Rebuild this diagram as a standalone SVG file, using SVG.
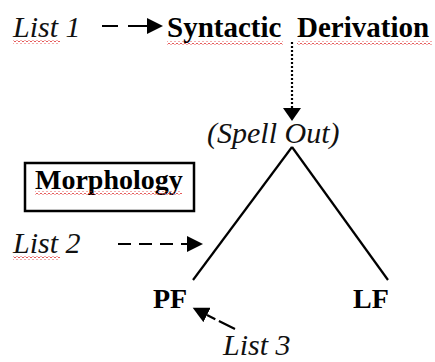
<svg xmlns="http://www.w3.org/2000/svg" width="435" height="362" viewBox="0 0 435 362">
<style>
.it{font-family:"Liberation Serif","Times New Roman",serif;font-style:italic;font-size:30px;fill:#111}
.bd{font-family:"Liberation Serif","Times New Roman",serif;font-weight:bold;font-size:28px;fill:#000}
.ln{stroke:#000;stroke-width:2.2;fill:none}
.wv{fill:url(#wave)}
</style>
<defs>
<marker id="ah" markerUnits="userSpaceOnUse" markerWidth="18" markerHeight="16" refX="0" refY="8" orient="auto"><path d="M0,0 L16,8 L0,16 Z" fill="#000"/></marker>
<marker id="ahd" markerUnits="userSpaceOnUse" markerWidth="14" markerHeight="20" refX="0" refY="9" orient="auto"><path d="M0,0 L13,9 L0,18 Z" fill="#000"/></marker>
<pattern id="wave" width="4" height="3" patternUnits="userSpaceOnUse"><path d="M0,2 Q1,0 2,2 T4,2" stroke="#e03030" stroke-width="0.8" fill="none"/></pattern>
</defs>
<rect width="435" height="362" fill="#fff"/>
<g id="connectors">
<path class="ln" d="M102,26 L147,26" stroke-dasharray="16 10 25 0" marker-end="url(#ah)"/>
<path class="ln" d="M292,42 L292,108" stroke-dasharray="2 2" marker-end="url(#ahd)"/>
<path class="ln" d="M292,147 L193,280"/>
<path class="ln" d="M292,147 L388,280"/>
<path class="ln" d="M118,244 L187,244" stroke-dasharray="13 8" marker-end="url(#ah)"/>
<path class="ln" d="M235,329 L207,315" stroke-dasharray="18 4" marker-end="url(#ah)"/>
</g>
<g id="list1"><text class="it" x="13" y="37">List 1</text><rect class="wv" x="13" y="40.5" width="47" height="3"/></g>
<g id="syntactic-derivation"><text class="bd" style="font-size:29px" y="37"><tspan x="167">Syntactic</tspan><tspan x="297">Derivation</tspan></text><rect class="wv" x="167" y="41.5" width="116" height="3"/><rect class="wv" x="297" y="41.5" width="135" height="3"/></g>
<g id="spell-out"><text class="it" x="207" y="143">(Spell Out)</text></g>
<g id="morphology"><rect x="25" y="163" width="169" height="48" fill="none" stroke="#000" stroke-width="2.5"/><text class="bd" x="35" y="189">Morphology</text><rect class="wv" x="35" y="191.5" width="147" height="3"/></g>
<g id="list2"><text class="it" x="13" y="253">List 2</text><rect class="wv" x="13" y="256.5" width="47" height="3"/></g>
<g id="pf"><text class="bd" x="153" y="308">PF</text></g>
<g id="lf"><text class="bd" x="353" y="308">LF</text></g>
<g id="list3"><text class="it" x="223" y="355">List 3</text></g>
</svg>
